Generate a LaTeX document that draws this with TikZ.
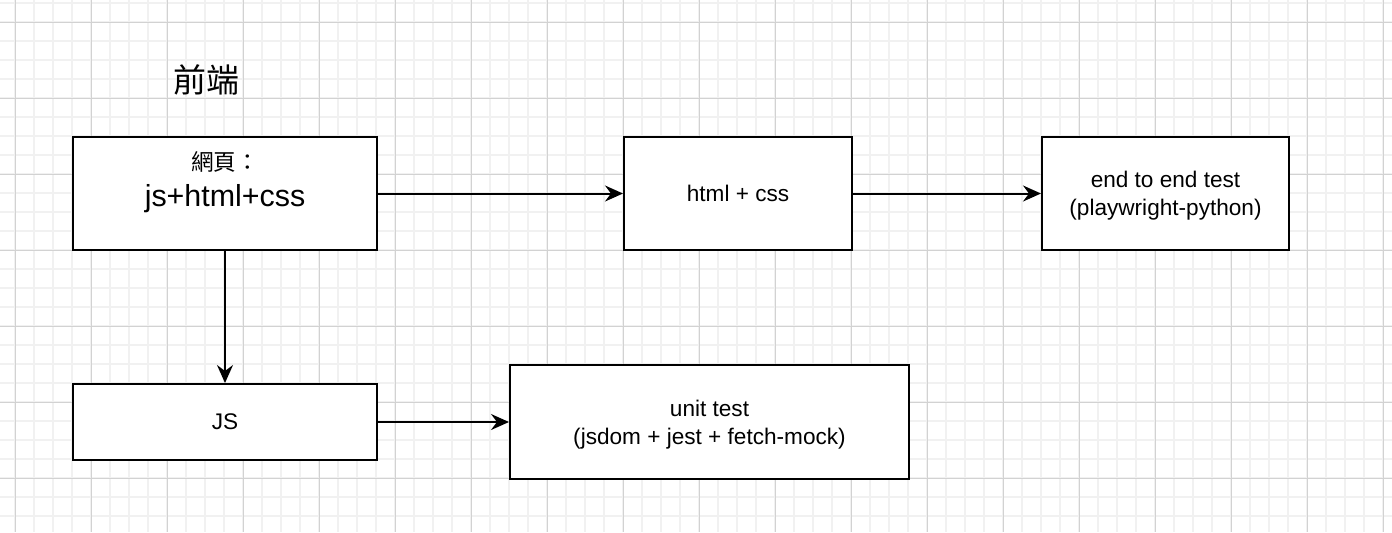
\documentclass[tikz,border=0pt]{standalone}
\usepackage{fontspec}
\usetikzlibrary{arrows.meta}
\setmainfont{Liberation Sans}
\newfontfamily\cjk{Noto Sans CJK TC}
\definecolor{gridmajor}{HTML}{D2D2D2}
\definecolor{gridminor}{HTML}{F1F1F1}

\begin{document}
\begin{tikzpicture}[x=0.5pt,y=-0.5pt,line width=1pt,>={Stealth[length=9pt,width=8pt,inset=3pt]},
  box/.style={draw,fill=white,align=center,inner sep=0pt,text depth=0pt,font=\fontsize{11.3}{14}\selectfont}]

\useasboundingbox (0,0) rectangle (1392,532);
\fill[white] (0,0) rectangle (1392,532);
% grid
\foreach \gx in {-4,15,...,1392} \draw[gridminor,line width=0.8pt] (\gx,0) -- (\gx,532);
\foreach \gy in {3,22,...,532} \draw[gridminor,line width=0.8pt] (0,\gy) -- (1392,\gy);
\foreach \gx in {15,91,...,1392} \draw[gridmajor,line width=0.5pt] (\gx,0) -- (\gx,532);
\foreach \gy in {22,98,...,532} \draw[gridmajor,line width=0.5pt] (0,\gy) -- (1392,\gy);

\node[font=\cjk\fontsize{16.5}{20}\selectfont](title) at (206.5,80){前端};

\node[box,minimum width=152pt,minimum height=56.5pt](web) at (225,193.5){{\cjk 網頁：}\\[4pt]{\fontsize{15.2}{18}\selectfont js+html+css}\\\mbox{}};
\node[box,minimum width=114pt,minimum height=56.5pt](htmlcss)[right of=web,node distance=256.5pt]{html + css};
\node[box,minimum width=123.5pt,minimum height=56.5pt](e2e)[right of=htmlcss,node distance=213.75pt]{end to end test\\(playwright-python)};
\node[box,minimum width=152pt,minimum height=38pt](js)[below of=web,node distance=114.25pt]{JS};
\node[box,minimum width=199.5pt,minimum height=57pt](unit)[right of=js,node distance=242.25pt]{unit test\\(jsdom + jest + fetch-mock)};

\path[->](web)edge(htmlcss)
	(htmlcss)edge(e2e)
	(web)edge(js)
	(js)edge(unit);

\end{tikzpicture}
\end{document}
